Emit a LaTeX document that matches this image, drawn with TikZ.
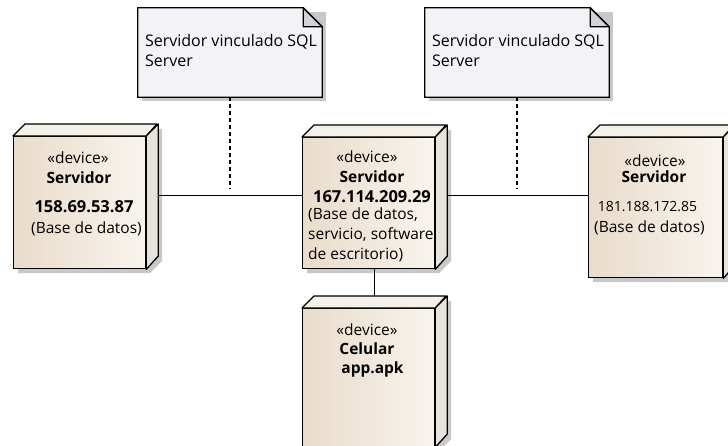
\documentclass[tikz,border=0pt]{standalone}
\usepackage{fontspec}
\setmainfont{Open Sans}
\usetikzlibrary{calc}

\definecolor{devclaro}{HTML}{F8F4EE}
\definecolor{devoscuro}{HTML}{E9DCCA}
\definecolor{devtapa}{HTML}{F5F0E8}
\definecolor{devlado}{HTML}{E7E2DB}
\definecolor{notafondo}{HTML}{F3F2F6}
\definecolor{notapliegue}{HTML}{D3D3D5}
\definecolor{sombra}{HTML}{C8C8C8}

\newcommand\txt{\fontsize{15.5}{18}\selectfont}
\newcommand\ipfont{\fontsize{16.5}{19}\selectfont\bfseries}

\tikzset{
  devfront/.style={draw, line width=1.3pt, left color=devoscuro, right color=devclaro, inner sep=0pt},
  devtapa/.style={draw, line width=1.3pt, fill=devtapa, line join=round},
  devlado/.style={draw, line width=1.3pt, fill=devlado, line join=round},
  nota/.style={draw=none, inner sep=0pt},
  enlace/.style={line width=1.3pt},
  guia/.style={line width=1.3pt, dash pattern=on 4pt off 3pt},
  texto/.style={font=\txt, inner sep=0pt}
}

% nodo 3D: nombre, x, y (esquina sup. izq. del frente), ancho, alto
\newcommand\dispositivo[5]{%
  \fill[sombra] (#2+5,#3+#5+5) -- ++(0,-#5) -- ++(12,-12) -- ++(#4,0)
    -- ++(0,#5) -- ++(-12,12) -- cycle;
  \node[devfront, minimum width=#4pt, minimum height=#5pt, anchor=north west] (#1) at (#2,#3) {};
  \draw[devtapa] (#1.north west) -- ++(12,-12) -- ++(#4,0) -- (#1.north east) -- cycle;
  \draw[devlado] (#1.north east) -- ++(12,-12) -- ++(0,#5) -- (#1.south east) -- cycle;
}

% nota con esquina doblada
\newcommand\notaSQL[2]{%
  \fill[sombra] ([shift={(4pt,-4pt)}]#1.south west) rectangle ([shift={(4pt,-4pt)}]#1.north east);
  \draw[line width=1.3pt, fill=notafondo] (#1.south west) -- (#1.north west)
    -- ([xshift=-19pt]#1.north east) -- ([yshift=-19pt]#1.north east)
    -- (#1.south east) -- cycle;
  \draw[line width=1.3pt, fill=notapliegue, line join=round] ([xshift=-19pt]#1.north east)
    -- ([xshift=-19pt,yshift=-19pt]#1.north east) -- ([yshift=-19pt]#1.north east) -- cycle;
  \node[texto, anchor=north west, align=left, font=\fontsize{16}{20}\selectfont]
    (#2) at ([xshift=7pt,yshift=-26pt]#1.north west) {Servidor vinculado SQL\\Server};
}

\begin{document}
\begin{tikzpicture}[x=1pt,y=-1pt,line cap=butt]
  \clip (0,0) rectangle (728,445);
  \fill[white] (0,0) rectangle (728,445);

  % notas
  \node[nota, minimum width=184pt, minimum height=89pt] (nota1) at (230,52.5) {};
  \node[nota, minimum width=184pt, minimum height=89pt] (nota2) at (517,52.5) {};
  \notaSQL{nota1}{tnota1}
  \notaSQL{nota2}{tnota2}

  % dispositivos
  \dispositivo{izq}{13}{136}{132}{132}
  \dispositivo{cen}{302}{137}{132}{131}
  \dispositivo{cel}{302}{308}{132}{138}
  \dispositivo{der}{588}{137}{134}{140}

  % conexiones
  \coordinate (bus) at (0,195.5);
  \draw[enlace] ([xshift=12pt]izq.east |- bus) -- (cen.west |- bus);
  \draw[enlace] ([xshift=12pt]cen.east |- bus) -- (der.west |- bus);
  \draw[enlace] ([xshift=6pt]cen.south) -- ([xshift=6pt,yshift=12pt]cel.north);
  \draw[guia] (nota1.south) -- ([yshift=7pt]nota1.south |- bus);
  \draw[guia] (nota2.south) -- ([yshift=7pt]nota2.south |- bus);

  % textos izq
  \node[texto] (izq1) at (78,158) {«device»};
  \node[texto, font=\txt\bfseries] (izq2) at (79,178) {Servidor};
  \node[texto, font=\ipfont] (izq3) at (84,207) {158.69.53.87};
  \node[texto] (izq4) at (86.5,229) {(Base de datos)};

  % textos centro
  \node[texto] (cen1) at (367,157) {«device»};
  \node[texto, font=\txt\bfseries] (cen2) at (372,177) {Servidor};
  \node[texto, font=\ipfont] (cen3) at (372,197) {167.114.209.29};
  \node[texto, anchor=north west, align=left, font=\fontsize{15.5}{20}\selectfont]
    (cen4) at (308,208) {(Base de datos,\\servicio, software\\de escritorio)};

  % textos celular
  \node[texto] (cel1) at (367,330) {«device»};
  \node[texto, font=\txt\bfseries] (cel2) at (367,349) {Celular};
  \node[texto, font=\txt\bfseries] (cel3) at (372.5,369) {app.apk};

  % textos der
  \node[texto] (der1) at (655,161) {«device»};
  \node[texto, font=\txt\bfseries] (der2) at (654,177) {Servidor};
  \node[texto, font=\fontsize{14}{17}\selectfont] (der3) at (647.5,207) {181.188.172.85};
  \node[texto] (der4) at (649.5,228) {(Base de datos)};
\end{tikzpicture}
\end{document}
